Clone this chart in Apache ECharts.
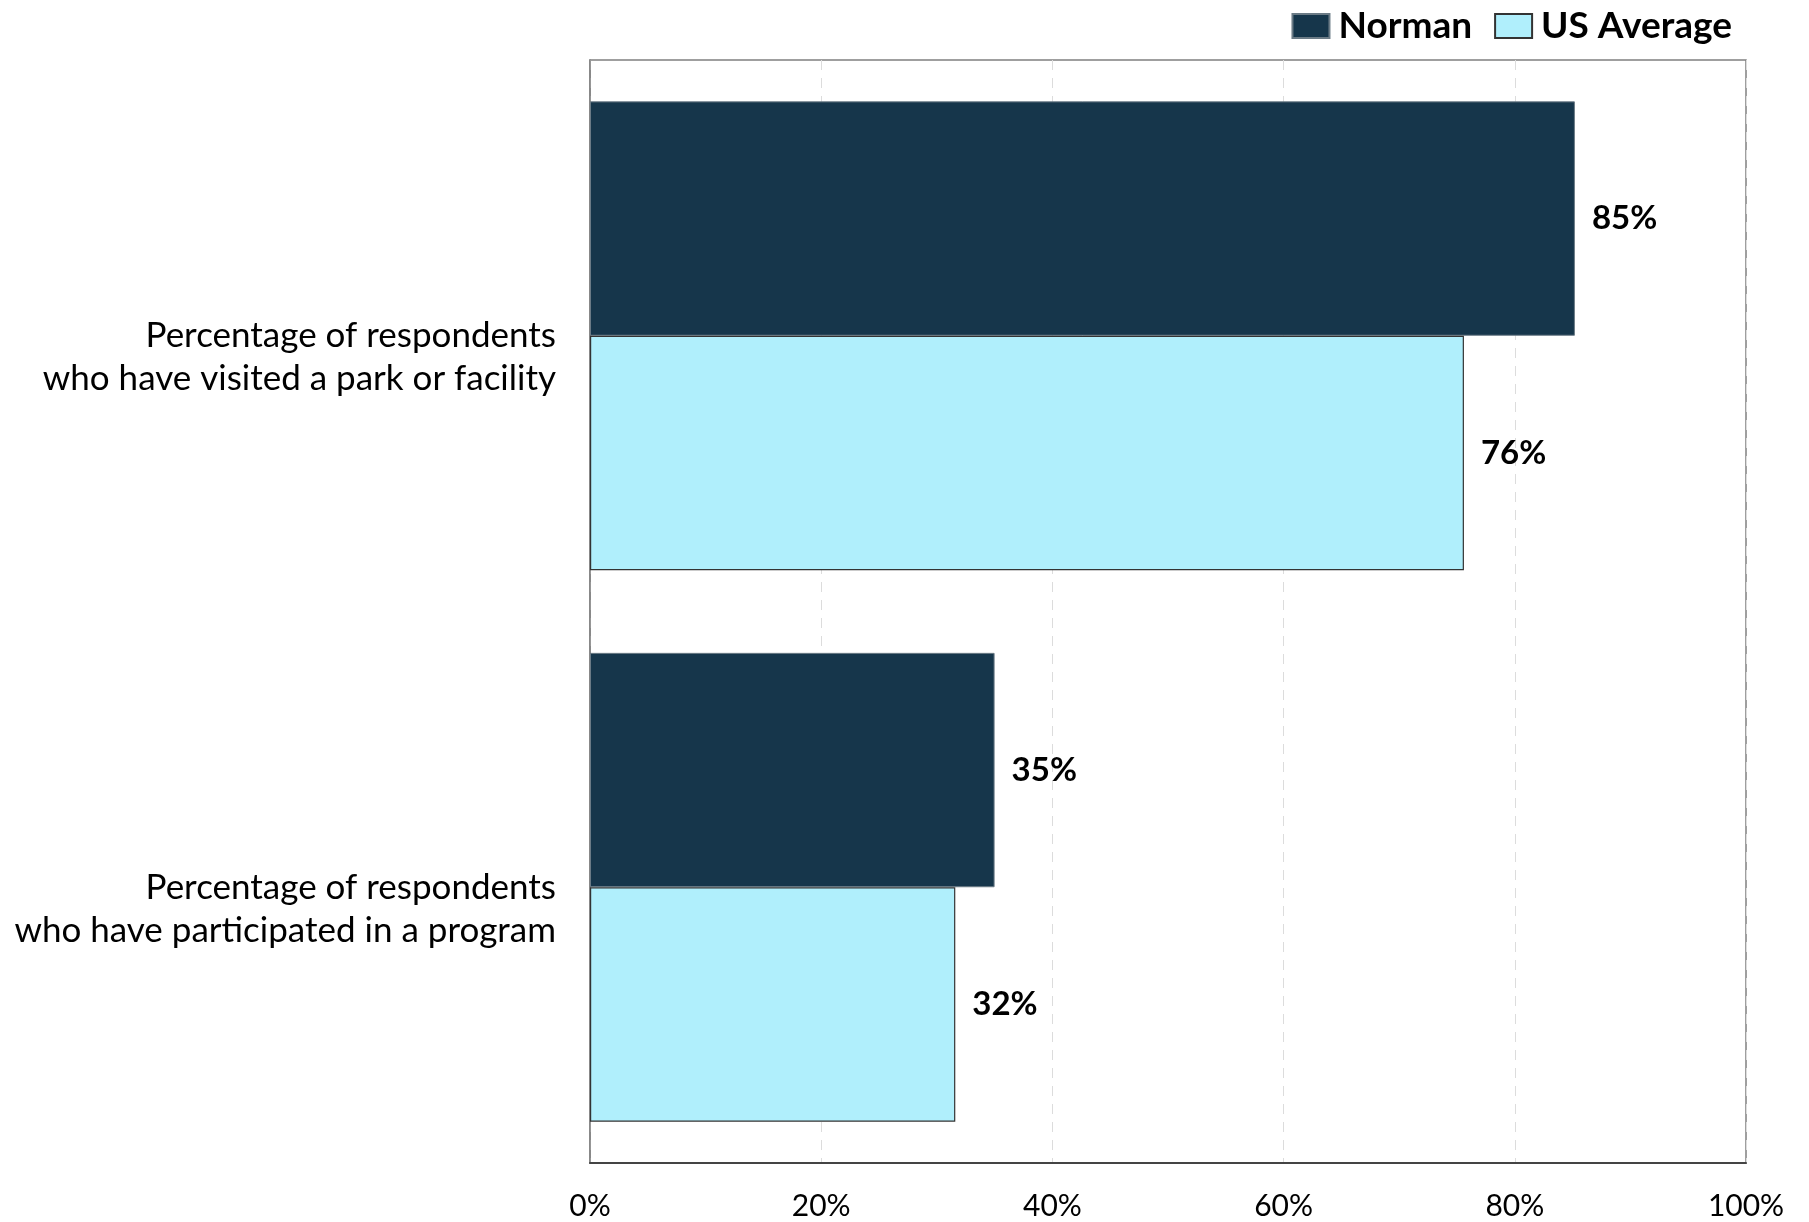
<!DOCTYPE html>
<html>
<head>
<meta charset="utf-8">
<script src="https://cdn.jsdelivr.net/npm/echarts@6/dist/echarts.min.js"></script>
<style>
html,body{margin:0;padding:0;background:#fff;}
#chart{width:1809px;height:1222px;}
</style>
</head>
<body>
<div id="chart"></div>
<script>
// categories, top to bottom
var categories = [
    'Percentage of respondents\nwho have visited a park or facility',
    'Percentage of respondents\nwho have participated in a program'
];
var normanValues = [85.2, 35.0];
var usAvgValues = [75.6, 31.6];
var xTicks = [0, 20, 40, 60, 80, 100];

var fontName = 'Lato, "Open Sans", sans-serif';

var barLabel = {
    show: true,
    position: 'right',
    distance: 17,
    color: '#000',
    fontFamily: fontName,
    fontWeight: 'bold',
    fontSize: 33,
    formatter: function (p) { return Math.round(p.value) + '%'; }
};

var chart = echarts.init(document.getElementById('chart'));
var option = {
    backgroundColor: '#fff',
    animation: false,
    legend: {
        right: 72,
        top: 1,
        icon: 'rect',
        itemWidth: 37,
        itemHeight: 24,
        itemGap: 22,
        textStyle: {
            fontFamily: fontName,
            fontWeight: 'bold',
            fontSize: 37,
            lineHeight: 40,
            color: '#000',
            padding: [0, 0, 0, 4]
        },
        data: ['Norman', 'US Average']
    },
    grid: {
        left: 590,
        right: 63,
        top: 60,
        bottom: 59,
        show: true,
        borderColor: '#808080',
        borderWidth: 1.5
    },
    xAxis: {
        type: 'value',
        min: xTicks[0],
        max: xTicks[xTicks.length - 1],
        interval: 20,
        axisLine: { show: true, lineStyle: { color: '#444', width: 2 } },
        axisTick: { show: false },
        splitLine: { show: true, lineStyle: { color: '#dcdcdc', type: [10, 8], width: 1 } },
        axisLabel: {
            margin: 28,
            color: '#000',
            fontFamily: fontName,
            fontSize: 30,
            formatter: '{value}%'
        }
    },
    yAxis: {
        type: 'category',
        inverse: true,
        data: categories,
        axisLine: { show: true, lineStyle: { color: '#808080', width: 1.5 } },
        axisTick: { show: false },
        axisLabel: {
            margin: 34,
            color: '#000',
            fontFamily: fontName,
            fontSize: 35,
            lineHeight: 43,
            align: 'right',
            // empty first line so the label's first line sits on the band centre
            formatter: function (v) { return '\n' + v; }
        }
    },
    series: [
        {
            name: 'Norman',
            type: 'bar',
            data: normanValues,
            barGap: '0%',
            barCategoryGap: '15%',
            itemStyle: { color: '#16364B', borderColor: '#6b7b86', borderWidth: 1 },
            label: barLabel
        },
        {
            name: 'US Average',
            type: 'bar',
            data: usAvgValues,
            itemStyle: { color: '#B0EFFC', borderColor: '#333', borderWidth: 1.2 },
            label: barLabel
        }
    ]
};
chart.setOption(option);
</script>
</body>
</html>
